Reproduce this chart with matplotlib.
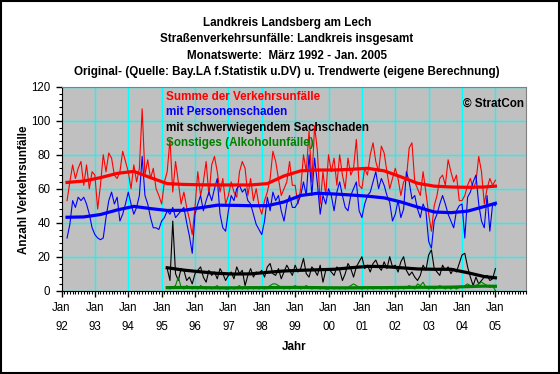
import numpy as np
import matplotlib
matplotlib.use('Agg')
import matplotlib.pyplot as plt
from matplotlib.patches import Rectangle
from matplotlib.ticker import MultipleLocator

plt.rcParams['font.family'] = ['Liberation Sans', 'DejaVu Sans']

# Monatswerte Maerz 1992 - Jan. 2005
summe = [53, 64, 74, 66, 72, 76, 62, 74, 60, 70,
         68, 48, 62, 80, 70, 81, 78, 68, 66, 70, 82, 76,
         70, 60, 74, 64, 72, 107, 68, 77, 66, 72, 60, 56,
         51, 64, 70, 89, 58, 76, 64, 51, 58, 49, 42, 33,
         49, 70, 56, 64, 76, 56, 74, 79, 70, 58, 66, 51,
         56, 64, 58, 55, 70, 76, 72, 56, 66, 53, 60, 50,
         45, 53, 58, 66, 82, 76, 66, 56, 60, 64, 76, 62,
         62, 51, 60, 80, 70, 94, 64, 97, 82, 51, 70, 56,
         80, 70, 78, 62, 80, 68, 60, 78, 68, 72, 89, 62,
         60, 72, 68, 80, 87, 76, 70, 85, 81, 70, 60, 66,
         72, 66, 56, 64, 66, 84, 87, 64, 60, 56, 70, 58,
         45, 35, 50, 56, 66, 68, 62, 77, 70, 64, 68, 53,
         53, 56, 62, 66, 60, 64, 79, 70, 51, 60, 66, 62,
         65]
personen = [31, 39, 53, 49, 55, 53, 55, 51, 45, 37,
            33, 31, 30, 31, 43, 53, 58, 51, 55, 41, 45, 51,
            58, 51, 45, 49, 56, 79, 56, 51, 43, 37, 37, 36,
            41, 43, 47, 45, 49, 43, 45, 47, 49, 40, 32, 22,
            45, 51, 56, 47, 53, 58, 53, 60, 66, 45, 37, 35,
            47, 56, 53, 60, 62, 58, 60, 53, 51, 45, 39, 36,
            33, 41, 55, 47, 58, 53, 56, 47, 41, 51, 56, 49,
            49, 52, 56, 64, 56, 80, 56, 78, 63, 45, 56, 51,
            60, 56, 47, 58, 64, 56, 49, 47, 56, 60, 64, 47,
            43, 51, 56, 58, 64, 70, 60, 66, 62, 56, 52, 41,
            45, 53, 43, 48, 70, 64, 54, 56, 48, 43, 51, 47,
            29, 25, 41, 45, 51, 56, 51, 45, 41, 37, 47, 50,
            51, 31, 55, 58, 64, 68, 51, 41, 37, 56, 35, 51,
            50]
# ab Maerz 1995
sachschaden = [13, 6, 41, 10, 6, 13, 12, 6, 8, 4,
               10, 12, 14, 8, 5, 12, 9, 11, 7, 13, 10, 6,
               9, 11, 7, 14, 10, 12, 3, 9, 13, 8, 11, 10,
               12, 8, 14, 16, 10, 9, 13, 7, 11, 15, 12, 9,
               15, 11, 13, 19, 10, 8, 14, 12, 9, 15, 5, 12,
               13, 11, 9, 14, 12, 6, 10, 16, 13, 8, 14, 17,
               20, 13, 15, 11, 16, 18, 14, 12, 17, 13, 20, 14,
               15, 11, 17, 20, 12, 9, 11, 8, 6, 9, 15, 12,
               21, 24, 13, 11, 9, 15, 12, 14, 10, 13, 11, 16,
               21, 22, 14, 8, 3, 8, 4, 6, 8, 9, 6, 7,
               13]
sonstiges = [2, 1, 2, 3, 8, 2, 1, 3, 2, 1,
             2, 1, 3, 2, 1, 2, 1, 2, 3, 1, 2, 1,
             1, 2, 1, 2, 3, 1, 2, 1, 2, 1, 2, 1,
             2, 1, 2, 3, 4, 4, 3, 2, 1, 2, 1, 2,
             3, 2, 1, 2, 3, 2, 1, 2, 2, 1, 2, 1,
             1, 2, 1, 2, 1, 2, 1, 2, 3, 4, 3, 2,
             1, 2, 1, 2, 1, 2, 2, 1, 2, 1, 2, 1,
             2, 1, 2, 1, 2, 3, 2, 1, 4, 3, 5, 2,
             1, 2, 1, 2, 3, 2, 1, 2, 1, 2, 1, 2,
             2, 3, 4, 3, 2, 3, 4, 5, 4, 3, 2, 3,
             0]

# Trendwerte (halbjaehrlich, Monat seit Jan. 1992)
trend_monat = [2, 8, 14, 20, 26, 32, 38, 44, 50, 56, 62, 68, 74, 80,
               86, 92, 98, 104, 110, 116, 122, 128, 134, 140, 146, 152, 156]
trend_summe = [63.7, 64.5, 66.5, 69, 70.2, 66.5, 63, 62.5, 62.3, 62.2, 62.2,
               62.2, 63, 67.5, 70.5, 71, 71, 71.4, 72, 70.5, 67, 63.2, 61.5,
               61, 60.8, 61, 61.5]
trend_personen = [43.2, 43.4, 44.8, 47.5, 49.6, 48.3, 47.2, 47.3, 48.8, 50.3,
                  50.2, 50, 50, 52.2, 56, 57.3, 56.9, 56.3, 55.6, 54.6, 52.2,
                  49.2, 46.3, 45.9, 46.8, 49.5, 51.4]
trend_monat_95 = trend_monat[6:]
trend_sach = [13.5, 12.1, 11.1, 10.2, 9.8, 9.9, 10.8, 11.6, 12, 12.3, 12.6,
              13.5, 14.3, 14.2, 13.5, 12.8, 12.6, 12.6, 10.6, 8.3, 7.6]
trend_sonst = [1.8, 1.9, 1.8, 1.7, 1.7, 1.8, 1.8, 1.9, 1.9, 1.8, 1.7, 1.7,
               1.8, 1.8, 1.9, 2, 2, 2.1, 2.4, 2.7, 2.6]

jahre = ['92', '93', '94', '95', '96', '97', '98', '99', '00', '01', '02',
         '03', '04', '05']

x_alle = np.arange(2, 2 + len(summe))
x_95 = np.arange(38, 38 + len(sachschaden))

fig = plt.figure(figsize=(5.6, 3.74), dpi=100)
ax = fig.add_axes([61.5 / 560, 83.3 / 374, 464.5 / 560, 204 / 374])
ax.set_facecolor('#C0C0C0')

ax.plot(x_alle, summe, color='#FF0000', lw=0.8)
ax.plot(x_alle, personen, color='#0000FF', lw=0.8)
ax.plot(x_95, sachschaden, color='black', lw=0.8)
ax.plot(x_95, sonstiges, color='#008000', lw=0.8)
ax.plot(trend_monat, trend_summe, color='#FF0000', lw=2.3)
ax.plot(trend_monat, trend_personen, color='#0000FF', lw=2.3)
ax.plot(trend_monat_95, trend_sach, color='black', lw=2.3)
ax.plot(trend_monat_95, trend_sonst, color='#008000', lw=2.3)

ax.set_xlim(0, 167)
ax.set_ylim(0, 120)
ax.set_xticks(range(0, 12 * len(jahre), 12))
ax.set_xticklabels(['Jan\n' + j for j in jahre], linespacing=1.8)
ax.xaxis.set_minor_locator(MultipleLocator(1))
ax.yaxis.set_major_locator(MultipleLocator(20))
ax.yaxis.set_minor_locator(MultipleLocator(4))
ax.tick_params(which='major', length=4, width=1, labelsize=8.3, pad=4)
ax.tick_params(which='minor', length=2, width=0.8)
ax.grid(which='major', color='#00FFFF', lw=1)
ax.set_axisbelow(True)
for s in ['top', 'right']:
    ax.spines[s].set_color('#808080')
for s in ['left', 'bottom']:
    ax.spines[s].set_color('black')

ax.set_xlabel('Jahr', fontsize=8.4, fontweight='bold', labelpad=6)
fig.text(24 / 560, 1 - 190 / 374, 'Anzahl Verkehrsunfälle', rotation=90,
         ha='center', va='center', fontsize=8.4, fontweight='bold')

titel = ['Landkreis Landsberg am Lech',
         'Straßenverkehrsunfälle: Landkreis insgesamt',
         'Monatswerte:  März 1992 - Jan. 2005',
         'Original- (Quelle: Bay.LA f.Statistik u.DV) u. Trendwerte (eigene Berechnung)']
for i, t in enumerate(titel):
    fig.text(287 / 560, 1 - (23 + 16.3 * i) / 374, t, ha='center', va='center',
             fontsize=8.4, fontweight='bold')

legende = [('Summe der Verkehrsunfälle', '#FF0000'),
           ('mit Personenschaden', '#0000FF'),
           ('mit schwerwiegendem Sachschaden', 'black'),
           ('Sonstiges (Alkoholunfälle)', '#008000')]
for i, (t, c) in enumerate(legende):
    fig.text(166 / 560, 1 - (97 + 15.3 * i) / 374, t, color=c, ha='left',
             va='center', fontsize=8.4, fontweight='bold')
fig.text(463 / 560, 1 - 104 / 374, '© StratCon', ha='left', va='center',
         fontsize=8.4, fontweight='bold')

fig.patches.append(Rectangle((0.001, 0.002), 0.997, 0.996, transform=fig.transFigure,
                             fill=False, edgecolor='black', lw=1.5))

fig.savefig('out.png', dpi=100)
